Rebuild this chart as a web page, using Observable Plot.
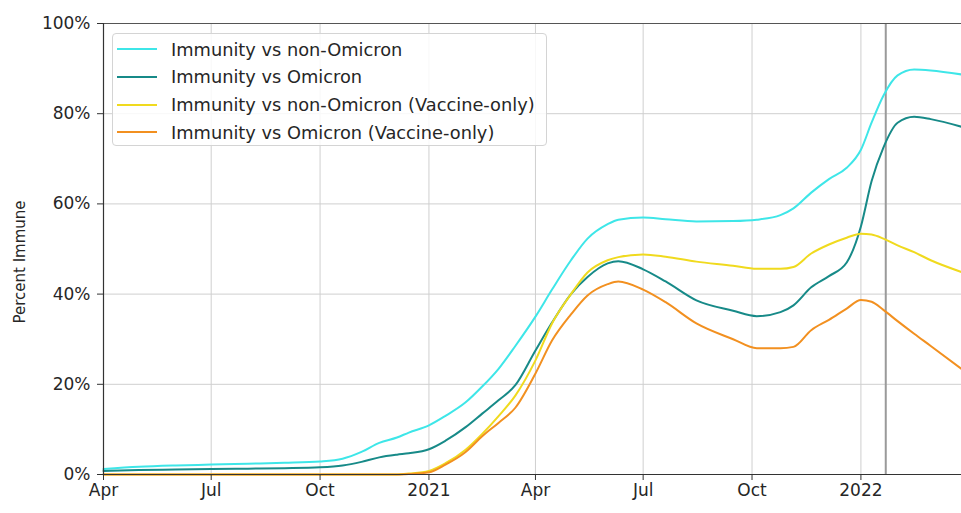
<!DOCTYPE html>
<html>
<head>
<meta charset="utf-8">
<script src="https://cdn.jsdelivr.net/npm/d3@7"></script>
<script src="https://cdn.jsdelivr.net/npm/@observablehq/plot@0.6"></script>
<style>
  html, body { margin: 0; padding: 0; background: #fff; }
  #wrap { position: relative; width: 961px; height: 513px; overflow: hidden; font-family: "DejaVu Sans", sans-serif; }
  #legend { position: absolute; left: 112px; top: 33px; width: 435px; height: 113px; box-sizing: border-box;
    border: 1px solid #d4d4d4; border-radius: 4px; background: rgba(255,255,255,0.85); }
  .item { position: absolute; left: 0; height: 20px; display: flex; align-items: center; font-size: 17.8px; color: #262626; white-space: nowrap; }
  .swatch { display: inline-block; width: 40px; height: 0; border-top: 2.5px solid; margin-left: 4px; margin-right: 14px; }
  #ylabel { position: absolute; left: 20px; top: 262px; transform: translate(-50%, -50%) rotate(-90deg);
    font-size: 15px; color: #262626; white-space: nowrap; line-height: 1; }
</style>
</head>
<body>
<div id="wrap"><div id="legend"></div><div id="ylabel"></div></div>
<script>
// ---- data ----
const seriesNames = ["Immunity vs non-Omicron", "Immunity vs Omicron", "Immunity vs non-Omicron (Vaccine-only)", "Immunity vs Omicron (Vaccine-only)"];
const seriesColors = ["#3ee6e8", "#178a88", "#f0da1e", "#f29020"];
const dates = ["2020-04-01","2020-05-01","2020-06-01","2020-07-01","2020-08-01","2020-09-01","2020-10-01","2020-10-20","2020-11-05","2020-11-20","2020-12-05","2020-12-15",
  "2021-01-01","2021-01-15","2021-02-01","2021-02-15","2021-03-01","2021-03-15","2021-04-01","2021-04-15","2021-05-01","2021-05-15","2021-06-01","2021-06-10",
  "2021-07-01","2021-07-20","2021-08-15","2021-09-15","2021-10-05","2021-10-25","2021-11-05","2021-11-20","2021-12-05","2021-12-20",
  "2022-01-01","2022-01-10","2022-01-20","2022-02-01","2022-02-15","2022-03-01","2022-03-27"];
const nonOmicron = [1.2,1.7,2.0,2.2,2.4,2.6,2.9,3.5,5.0,7.0,8.2,9.3,
  10.9,13.0,16.0,19.5,23.5,28.5,35.0,41.0,47.5,52.3,55.5,56.5,
  57.0,56.6,56.1,56.2,56.5,57.5,59.0,62.5,65.5,68.0,
  72.0,78.0,84.0,88.5,89.8,89.6,88.7];
const omicron = [0.8,1.0,1.1,1.2,1.3,1.4,1.6,2.0,2.8,3.8,4.4,4.7,
  5.6,7.5,10.5,13.5,16.5,19.8,27.5,33.7,40.0,43.8,46.8,47.3,
  45.5,42.8,38.6,36.3,35.1,36.0,37.5,41.5,44.0,47.0,
  55.0,65.0,72.5,78.0,79.3,78.8,77.1];
const nonOmicronVax = [0,0,0,0,0,0,0,0,0,0,0,0.2,
  0.8,2.5,5.5,9.0,13.0,17.5,25.3,33.5,40.0,44.8,47.5,48.2,
  48.8,48.3,47.2,46.3,45.6,45.6,46.0,49.0,51.0,52.5,
  53.4,53.2,52.3,50.8,49.3,47.5,44.9];
const omicronVax = [0,0,0,0,0,0,0,0,0,0,0,0.1,
  0.5,2.2,5.0,8.5,11.5,14.8,22.4,29.7,35.5,39.7,42.2,42.8,
  41.0,38.2,33.5,30.0,28.0,28.0,28.3,32.0,34.3,36.8,
  38.7,38.3,36.5,34.0,31.2,28.5,23.4];
const xTickDates = ["2020-04-01","2020-07-01","2020-10-01","2021-01-01","2021-04-01","2021-07-01","2021-10-01","2022-01-01"];
const xTickLabels = ["Apr","Jul","Oct","2021","Apr","Jul","Oct","2022"];
const yTicks = [0,20,40,60,80,100];
const markerDate = "2022-01-22";
const xDomain = ["2020-04-01","2022-03-27"];
const yLabel = "Percent Immune";

// ---- build ----
const parse = d3.utcParse("%Y-%m-%d");
const allValues = [nonOmicron, omicron, nonOmicronVax, omicronVax];
const rows = [];
allValues.forEach((vals, s) => dates.forEach((d, i) => rows.push({date: parse(d), value: vals[i], name: seriesNames[s]})));
const xTicks = xTickDates.map(parse);
const labelOf = new Map(xTicks.map((d, i) => [+d, xTickLabels[i]]));

const chart = Plot.plot({
  width: 961, height: 513,
  marginLeft: 103, marginRight: 0, marginTop: 23, marginBottom: 39,
  style: {fontFamily: "DejaVu Sans", fontSize: "17px", color: "#262626", background: "white", overflow: "visible"},
  x: {type: "utc", domain: xDomain.map(parse)},
  y: {domain: [0, 100]},
  color: {domain: seriesNames, range: seriesColors},
  marks: [
    Plot.gridX(xTicks, {stroke: "#cfcfcf", strokeOpacity: 1, strokeWidth: 1}),
    Plot.gridY(yTicks, {stroke: "#cfcfcf", strokeOpacity: 1, strokeWidth: 1}),
    Plot.ruleX([parse(markerDate)], {stroke: "#9a9a9a", strokeWidth: 2}),
    Plot.line(rows, {x: "date", y: "value", z: "name", stroke: "name", strokeWidth: 2, curve: "monotone-x"}),
    Plot.ruleY([0], {stroke: "#333", strokeWidth: 1.2}),
    Plot.ruleY([100], {stroke: "#555", strokeWidth: 1.2}),
    Plot.ruleX([parse(xDomain[0])], {stroke: "#333", strokeWidth: 1.2}),
    Plot.axisX(xTicks, {tickFormat: d => labelOf.get(+d), tickSize: 6, tickPadding: 3, label: null, stroke: "#333"}),
    Plot.axisY(yTicks, {tickFormat: d => d + "%", tickSize: 6, tickPadding: 7, label: null, stroke: "#333"})
  ]
});
const wrap = document.getElementById("wrap");
wrap.insertBefore(chart, wrap.firstChild);
document.getElementById("ylabel").textContent = yLabel;

const legend = document.getElementById("legend");
seriesNames.forEach((n, i) => {
  const it = document.createElement("div");
  it.className = "item";
  it.style.top = (5 + i * 27.8) + "px";
  const sw = document.createElement("span");
  sw.className = "swatch";
  sw.style.borderColor = seriesColors[i];
  it.appendChild(sw);
  it.appendChild(document.createTextNode(n));
  legend.appendChild(it);
});
</script>
</body>
</html>
